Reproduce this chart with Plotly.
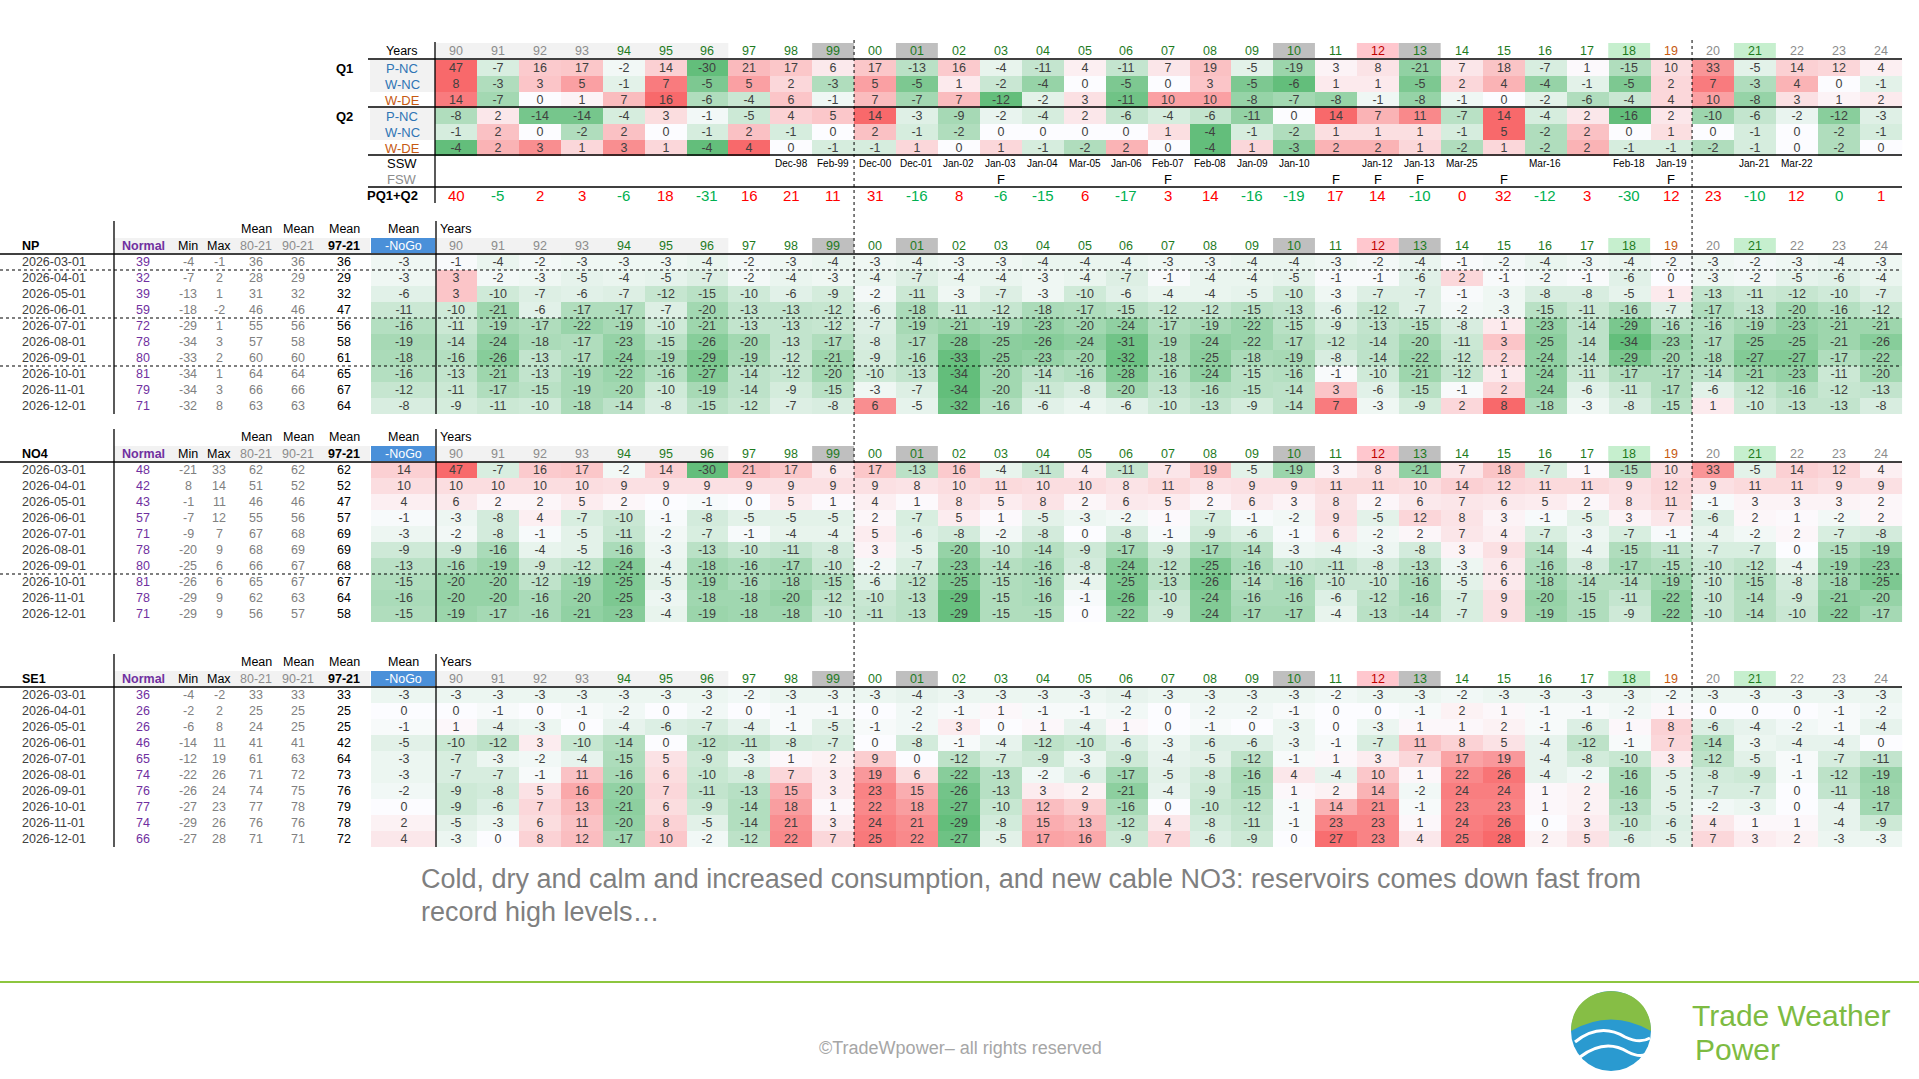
import plotly.graph_objects as go

# ---- data ----
YEARS = ["90", "91", "92", "93", "94", "95", "96", "97", "98", "99",
         "00", "01", "02", "03", "04", "05", "06", "07", "08", "09",
         "10", "11", "12", "13", "14", "15", "16", "17", "18", "19",
         "20", "21", "22", "23", "24"]
MONTHS = ["2026-03-01", "2026-04-01", "2026-05-01", "2026-06-01", "2026-07-01",
          "2026-08-01", "2026-09-01", "2026-10-01", "2026-11-01", "2026-12-01"]

# top block: Q1 / Q2 anomalies
Q_LABELS = ["P-NC", "W-NC", "W-DE", "P-NC", "W-NC", "W-DE"]
Q1_PNC = [47, -7, 16, 17, -2, 14, -30, 21, 17, 6, 17, -13, 16, -4, -11, 4, -11, 7, 19, -5, -19, 3, 8, -21, 7, 18, -7, 1, -15, 10, 33, -5, 14, 12, 4]
Q1_WNC = [8, -3, 3, 5, -1, 7, -5, 5, 2, -3, 5, -5, 1, -2, -4, 0, -5, 0, 3, -5, -6, 1, 1, -5, 2, 4, -4, -1, -5, 2, 7, -3, 4, 0, -1]
Q1_WDE = [14, -7, 0, 1, 7, 16, -6, -4, 6, -1, 7, -7, 7, -12, -2, 3, -11, 10, 10, -8, -7, -8, -1, -8, -1, 0, -2, -6, -4, 4, 10, -8, 3, 1, 2]
Q2_PNC = [-8, 2, -14, -14, -4, 3, -1, -5, 4, 5, 14, -3, -9, -2, -4, 2, -6, -4, -6, -11, 0, 14, 7, 11, -7, 14, -4, 2, -16, 2, -10, -6, -2, -12, -3]
Q2_WNC = [-1, 2, 0, -2, 2, 0, -1, 2, -1, 0, 2, -1, -2, 0, 0, 0, 0, 1, -4, -1, -2, 1, 1, 1, -1, 5, -2, 2, 0, 1, 0, -1, 0, -2, -1]
Q2_WDE = [-4, 2, 3, 1, 3, 1, -4, 4, 0, -1, -1, 1, 0, 1, -1, -2, 2, 0, -4, 1, -3, 2, 2, 1, -2, 1, -2, 2, -1, -1, -2, -1, 0, -2, 0]
SSW = ["", "", "", "", "", "", "", "", "Dec-98", "Feb-99", "Dec-00", "Dec-01", "Jan-02", "Jan-03", "Jan-04",
       "Mar-05", "Jan-06", "Feb-07", "Feb-08", "Jan-09", "Jan-10", "", "Jan-12", "Jan-13", "Mar-25", "",
       "Mar-16", "", "Feb-18", "Jan-19", "", "Jan-21", "Mar-22", "", ""]
FSW = ["", "", "", "", "", "", "", "", "", "", "", "", "", "F", "", "", "", "F", "", "", "", "F", "F", "F",
       "", "F", "", "", "", "F", "", "", "", "", ""]
PQ = [40, -5, 2, 3, -6, 18, -31, 16, 21, 11, 31, -16, 8, -6, -15, 6, -17, 3, 14, -16, -19, 17, 14, -10, 0, 32, -12, 3, -30, 12, 23, -10, 12, 0, 1]

# NP
NP_NORMAL = [39, 32, 39, 59, 72, 78, 80, 81, 79, 71]
NP_MIN = [-4, -7, -13, -18, -29, -34, -33, -34, -34, -32]
NP_MAX = [-1, 2, 1, -2, 1, 3, 2, 1, 3, 8]
NP_M80 = [36, 28, 31, 46, 55, 57, 60, 64, 66, 63]
NP_M90 = [36, 29, 32, 46, 56, 58, 60, 64, 66, 63]
NP_M97 = [36, 29, 32, 47, 56, 58, 61, 65, 67, 64]
NP_NOGO = [-3, -3, -6, -11, -16, -19, -18, -16, -12, -8]
NP_DEV = [
    [-1, -4, -2, -3, -3, -3, -4, -2, -3, -4, -3, -4, -3, -3, -4, -4, -4, -3, -3, -4, -4, -3, -2, -4, -1, -2, -4, -3, -4, -2, -3, -2, -3, -4, -3],
    [3, -2, -3, -5, -4, -5, -7, -2, -4, -3, -4, -7, -4, -4, -3, -4, -7, -1, -4, -4, -5, -1, -1, -6, 2, -1, -2, -1, -6, 0, -3, -2, -5, -6, -4],
    [3, -10, -7, -6, -7, -12, -15, -10, -6, -9, -2, -11, -3, -7, -3, -10, -6, -4, -4, -5, -10, -3, -7, -7, -1, -3, -8, -8, -5, 1, -13, -11, -12, -10, -7],
    [-10, -21, -6, -17, -17, -7, -20, -13, -13, -12, -6, -18, -11, -12, -18, -17, -15, -12, -12, -15, -13, -6, -12, -7, -2, -3, -15, -11, -16, -7, -17, -13, -20, -16, -12],
    [-11, -19, -17, -22, -19, -10, -21, -13, -13, -12, -7, -19, -21, -19, -23, -20, -24, -17, -19, -22, -15, -9, -13, -15, -8, 1, -23, -14, -29, -16, -16, -19, -23, -21, -21],
    [-14, -24, -18, -17, -23, -15, -26, -20, -13, -17, -8, -17, -28, -25, -26, -24, -31, -19, -24, -22, -17, -12, -14, -20, -11, 3, -25, -14, -34, -23, -17, -25, -25, -21, -26],
    [-16, -26, -13, -17, -24, -19, -29, -19, -12, -21, -9, -16, -33, -25, -23, -20, -32, -18, -25, -18, -19, -8, -14, -22, -12, 2, -24, -14, -29, -20, -18, -27, -27, -17, -22],
    [-13, -21, -13, -19, -22, -16, -27, -14, -12, -20, -10, -13, -34, -20, -14, -16, -28, -16, -24, -15, -16, -1, -10, -21, -12, 1, -24, -11, -17, -17, -14, -21, -23, -11, -20],
    [-11, -17, -15, -19, -20, -10, -19, -14, -9, -15, -3, -7, -34, -20, -11, -8, -20, -13, -16, -15, -14, 3, -6, -15, -1, 2, -24, -6, -11, -17, -6, -12, -16, -12, -13],
    [-9, -11, -10, -18, -14, -8, -15, -12, -7, -8, 6, -5, -32, -16, -6, -4, -6, -10, -13, -9, -14, 7, -3, -9, 2, 8, -18, -3, -8, -15, 1, -10, -13, -13, -8],
]

# NO4
NO4_NORMAL = [48, 42, 43, 57, 71, 78, 80, 81, 78, 71]
NO4_MIN = [-21, 8, -1, -7, -9, -20, -25, -26, -29, -29]
NO4_MAX = [33, 14, 11, 12, 7, 9, 6, 6, 9, 9]
NO4_M80 = [62, 51, 46, 55, 67, 68, 66, 65, 62, 56]
NO4_M90 = [62, 52, 46, 56, 68, 69, 67, 67, 63, 57]
NO4_M97 = [62, 52, 47, 57, 69, 69, 68, 67, 64, 58]
NO4_NOGO = [14, 10, 4, -1, -3, -9, -13, -15, -16, -15]
NO4_DEV = [
    [47, -7, 16, 17, -2, 14, -30, 21, 17, 6, 17, -13, 16, -4, -11, 4, -11, 7, 19, -5, -19, 3, 8, -21, 7, 18, -7, 1, -15, 10, 33, -5, 14, 12, 4],
    [10, 10, 10, 10, 9, 9, 9, 9, 9, 9, 9, 8, 10, 11, 10, 10, 8, 11, 8, 9, 9, 11, 11, 10, 14, 12, 11, 11, 9, 12, 9, 11, 11, 9, 9],
    [6, 2, 2, 5, 2, 0, -1, 0, 5, 1, 4, 1, 8, 5, 8, 2, 6, 5, 2, 6, 3, 8, 2, 6, 7, 6, 5, 2, 8, 11, -1, 3, 3, 3, 2],
    [-3, -8, 4, -7, -10, -1, -8, -5, -5, -5, 2, -7, 5, 1, -5, -3, -2, 1, -7, -1, -2, 9, -5, 12, 8, 3, -1, -5, 3, 7, -6, 2, 1, -2, 2],
    [-2, -8, -1, -5, -11, -2, -7, -1, -4, -4, 5, -6, -8, -2, -8, 0, -8, -1, -9, -6, -1, 6, -2, 2, 7, 4, -7, -3, -7, -1, -4, -2, 2, -7, -8],
    [-9, -16, -4, -5, -16, -3, -13, -10, -11, -8, 3, -5, -20, -10, -14, -9, -17, -9, -17, -14, -3, -4, -3, -8, 3, 9, -14, -4, -15, -11, -7, -7, 0, -15, -19],
    [-16, -19, -9, -12, -24, -4, -18, -16, -17, -10, -2, -7, -23, -14, -16, -8, -24, -12, -25, -16, -10, -11, -8, -13, -3, 6, -16, -8, -17, -15, -10, -12, -4, -19, -23],
    [-20, -20, -12, -19, -25, -5, -19, -16, -18, -15, -6, -12, -25, -15, -16, -4, -25, -13, -26, -14, -16, -10, -10, -16, -5, 6, -18, -14, -14, -19, -10, -15, -8, -18, -25],
    [-20, -20, -16, -20, -25, -3, -18, -18, -20, -12, -10, -13, -29, -15, -16, -1, -26, -10, -24, -16, -16, -6, -12, -16, -7, 9, -20, -15, -11, -22, -10, -14, -9, -21, -20],
    [-19, -17, -16, -21, -23, -4, -19, -18, -18, -10, -11, -13, -29, -15, -15, 0, -22, -9, -24, -17, -17, -4, -13, -14, -7, 9, -19, -15, -9, -22, -10, -14, -10, -22, -17],
]

# SE1
SE1_NORMAL = [36, 26, 26, 46, 65, 74, 76, 77, 74, 66]
SE1_MIN = [-4, -2, -6, -14, -12, -22, -26, -27, -29, -27]
SE1_MAX = [-2, 2, 8, 11, 19, 26, 24, 23, 26, 28]
SE1_M80 = [33, 25, 24, 41, 61, 71, 74, 77, 76, 71]
SE1_M90 = [33, 25, 25, 41, 63, 72, 75, 78, 76, 71]
SE1_M97 = [33, 25, 25, 42, 64, 73, 76, 79, 78, 72]
SE1_NOGO = [-3, 0, -1, -5, -3, -3, -2, 0, 2, 4]
SE1_DEV = [
    [-3, -3, -3, -3, -3, -3, -3, -2, -3, -3, -3, -4, -3, -3, -3, -3, -4, -3, -3, -3, -3, -2, -3, -3, -2, -3, -3, -3, -3, -2, -3, -3, -3, -3, -3],
    [0, -1, 0, -1, -2, 0, -2, 0, -1, -1, 0, -2, -1, 1, -1, -1, -2, 0, -2, -2, -1, 0, 0, -1, 2, 1, -1, -1, -2, 1, 0, 0, 0, -1, -2],
    [1, -4, -3, 0, -4, -6, -7, -4, -1, -5, -1, -2, 3, 0, 1, -4, 1, 0, -1, 0, -3, 0, -3, 1, 1, 2, -1, -6, 1, 8, -6, -4, -2, -1, -4],
    [-10, -12, 3, -10, -14, 0, -12, -11, -8, -7, 0, -8, -1, -4, -12, -10, -6, -3, -6, -6, -3, -1, -7, 11, 8, 5, -4, -12, -1, 7, -14, -3, -4, -4, 0],
    [-7, -3, -2, -4, -15, 5, -9, -3, 1, 2, 9, 0, -12, -7, -9, -3, -9, -4, -5, -12, -1, 1, 3, 7, 17, 19, -4, -8, -10, 3, -12, -5, -1, -7, -11],
    [-7, -7, -1, 11, -16, 6, -10, -8, 7, 3, 19, 6, -22, -13, -2, -6, -17, -5, -8, -16, 4, -4, 10, 1, 22, 26, -4, -2, -16, -5, -8, -9, -1, -12, -19],
    [-9, -8, 5, 16, -20, 7, -11, -13, 15, 3, 23, 15, -26, -13, 3, 2, -21, -4, -9, -15, 1, 2, 14, -2, 24, 24, 1, 2, -16, -5, -7, -7, 0, -11, -18],
    [-9, -6, 7, 13, -21, 6, -9, -14, 18, 1, 22, 18, -27, -10, 12, 9, -16, 0, -10, -12, -1, 14, 21, -1, 23, 23, 1, 2, -13, -5, -2, -3, 0, -4, -17],
    [-5, -3, 6, 11, -20, 8, -5, -14, 21, 3, 24, 21, -29, -8, 15, 13, -12, 4, -8, -11, -1, 23, 23, 1, 24, 26, 0, 3, -10, -6, 4, 1, 1, -4, -9],
    [-3, 0, 8, 12, -17, 10, -2, -12, 22, 7, 25, 22, -27, -5, 17, 16, -9, 7, -6, -9, 0, 27, 23, 4, 25, 28, 2, 5, -6, -5, 7, 3, 2, -3, -3],
]

# ---- styling ----
FONT = "Liberation Sans Narrow, Arial Narrow, Liberation Sans, Arial"
GREEN_TXT = "#1E7B1E"
YEAR_COLORS = ["#8C8C8C"] * 4 + [GREEN_TXT] * 18 + ["#C00000"] + [GREEN_TXT] * 6 + ["#C65911"] + \
              ["#8C8C8C", GREEN_TXT, "#8C8C8C", "#8C8C8C", "#8C8C8C"]
YEAR_BG = {9: "#BFBFBF", 11: "#BFBFBF", 20: "#BFBFBF", 23: "#BFBFBF", 22: "#FFC7CE", 28: "#C6EFCE", 31: "#C6EFCE"}
SCALE = [[0, "#63BE7B"], [0.5, "#FCFCFF"], [1, "#F8696B"]]

X0, DX = 456, 41.9
xs = [X0 + i * DX for i in range(len(YEARS))]

fig = go.Figure()
annotations = []
shapes = []


def ann(x, y, text, color="#404040", size=12, bold=False, anchor="center"):
    if bold:
        text = "<b>" + text + "</b>"
    annotations.append(dict(x=x, y=y, text=text, showarrow=False, xanchor=anchor, yanchor="middle",
                            font=dict(color=color, size=size, family=FONT)))


def line(x0, y0, x1, y1, color="black", width=1.3, dash="solid"):
    shapes.append(dict(type="line", x0=x0, y0=y0, x1=x1, y1=y1, layer="above",
                       line=dict(color=color, width=width, dash=dash)))


def rect(x0, y0, x1, y1, color):
    shapes.append(dict(type="rect", x0=x0, y0=y0, x1=x1, y1=y1, layer="below",
                       fillcolor=color, line=dict(width=0)))


def norm(v, lo, hi):
    if v > 0:
        return v / hi if hi > 0 else 0
    if v < 0:
        return -v / lo if lo < 0 else 0
    return 0


def heat(z, text, x0, dx, y0, dy):
    fig.add_trace(go.Heatmap(z=z, text=text, x0=x0, dx=dx, y0=y0, dy=dy, zmin=-1, zmax=1,
                             colorscale=SCALE, showscale=False, hoverinfo="skip",
                             texttemplate="%{text}", textfont=dict(family=FONT, size=12.5, color="#404040")))


def year_header(y):
    rect(xs[0] - DX / 2, y - 8, xs[6] + DX / 2, y + 7, "#F2F2F2")
    for i, yr in enumerate(YEARS):
        if i in YEAR_BG:
            rect(xs[i] - DX / 2, y - 8, xs[i] + DX / 2, y + 7, YEAR_BG[i])
        ann(xs[i], y, yr, YEAR_COLORS[i], 12.5)


# ---- top block ----
q_rows = [Q1_PNC, Q1_WNC, Q1_WDE, Q2_PNC, Q2_WNC, Q2_WDE]
q_z = [[norm(v, min(r), max(r)) for v in r] for r in q_rows]
heat(q_z, q_rows, X0, DX, 68, 16)
year_header(51)
ann(402, 51, "Years", "black", 12.5)
for k, lab in enumerate(Q_LABELS):
    y = 68 + 16 * k
    if k % 3 != 2:
        rect(370, y - 8, 435, y + 8, "#F2F2F2")
    ann(402, y, lab, "#C65911" if lab == "W-DE" else "#2F75B5", 13)
ann(344, 68, "Q1", "black", 13, True)
ann(344, 116, "Q2", "black", 13, True)
ann(402, 163, "SSW", "black", 13)
ann(402, 179, "FSW", "#8C8C8C", 13)
ann(392, 195, "PQ1+Q2", "black", 13, True)
for i in range(len(YEARS)):
    if SSW[i]:
        ann(xs[i], 163, SSW[i], "black", 10)
    if FSW[i]:
        ann(xs[i], 179, FSW[i], "black", 13)
    ann(xs[i], 195, str(PQ[i]), "#FF0000" if PQ[i] >= 0 and i != 33 else "#00B050", 15)
line(368, 59, 1902, 59)
line(368, 107, 1902, 107)
line(368, 155, 1902, 155)
line(368, 187, 1902, 187)
line(435, 42, 435, 203)

# ---- monthly blocks ----
blocks = [
    ("NP", 246, NP_NORMAL, NP_MIN, NP_MAX, NP_M80, NP_M90, NP_M97, NP_NOGO, NP_DEV, [0, 3, 6]),
    ("NO4", 454, NO4_NORMAL, NO4_MIN, NO4_MAX, NO4_M80, NO4_M90, NO4_M97, NO4_NOGO, NO4_DEV, [6]),
    ("SE1", 679, SE1_NORMAL, SE1_MIN, SE1_MAX, SE1_M80, SE1_M90, SE1_M97, SE1_NOGO, SE1_DEV, []),
]
for name, hy, normal, mn, mx, m80, m90, m97, nogo, dev, dotted in blocks:
    y0 = hy + 16
    flat = [v for r in dev for v in r] + nogo
    lo, hi = min(flat), max(flat)
    heat([[norm(v, lo, hi) for v in r] for r in dev], dev, X0, DX, y0, 16)
    heat([[norm(v, lo, hi)] for v in nogo], [[v] for v in nogo], 403.5, 65, y0, 16)

    # headers
    for x, t in [(256, "Mean"), (298, "Mean"), (344, "Mean"), (403, "Mean")]:
        ann(x, hy - 17, t, "black", 12.5)
    ann(438, hy - 17, "Years", "black", 12.5, anchor="left")
    rect(114, hy - 8, 370, hy + 7, "#F2F2F2")
    rect(371, hy - 8, 436, hy + 7, "#4A90D9")
    ann(20, hy, name, "black", 12.5, True, "left")
    ann(143, hy, "Normal", "#7030A0", 12.5, True)
    ann(188, hy, "Min", "black", 12.5)
    ann(219, hy, "Max", "black", 12.5)
    ann(256, hy, "80-21", "#8C8C8C", 12.5)
    ann(298, hy, "90-21", "#8C8C8C", 12.5)
    ann(344, hy, "97-21", "black", 12.5, True)
    ann(403, hy, "-NoGo", "white", 12.5)
    year_header(hy)

    for r in range(len(MONTHS)):
        y = y0 + 16 * r
        ann(20, y, MONTHS[r], "#404040", 12.5, anchor="left")
        ann(143, y, str(normal[r]), "#7030A0", 12.5)
        ann(188, y, str(mn[r]), "#808080", 12.5)
        ann(219, y, str(mx[r]), "#808080", 12.5)
        ann(256, y, str(m80[r]), "#808080", 12.5)
        ann(298, y, str(m90[r]), "#808080", 12.5)
        ann(344, y, str(m97[r]), "black", 12.5)
    line(0, hy + 8, 1902, hy + 8)
    line(114, hy - 25, 114, y0 + 16 * 9 + 8)
    line(436, hy - 25, 436, y0 + 16 * 9 + 8)
    for r in dotted:
        line(0, y0 + 16 * r + 8, 1902, y0 + 16 * r + 8, width=1.2, dash="dot")

# dashed dividers
for xd in [(xs[9] + xs[10]) / 2, (xs[29] + xs[30]) / 2]:
    line(xd, 40, xd, 848, width=1, dash="dot")

# ---- footer ----
ann(419, 879, "Cold, dry and calm and increased consumption, and new cable NO3: reservoirs comes down fast from",
    "#7F7F7F", 27, anchor="left")
ann(419, 912, "record high levels…", "#7F7F7F", 27, anchor="left")
line(0, 982, 1919, 982, color="#8DC63F", width=2)
ann(960, 1048, "©TradeWpower– all rights reserved", "#A6A6A6", 18)
ann(1690, 1015, "Trade Weather", "#7DBB42", 30, anchor="left")
ann(1693, 1049, "Power", "#7DBB42", 30, anchor="left")
# logo
shapes.append(dict(type="circle", x0=1571, y0=991, x1=1651, y1=1071, fillcolor="#2A9AD0",
                   line=dict(width=0), layer="above"))
shapes.append(dict(type="path", path="M1571,1031 C1571,978 1651,978 1651,1031 Q1611,1008 1571,1031 Z",
                   fillcolor="#86BE45", line=dict(width=0), layer="above"))
shapes.append(dict(type="path", path="M1575,1042 Q1600,1022 1625,1037 Q1640,1044 1650,1038",
                   line=dict(color="white", width=3), layer="above"))
shapes.append(dict(type="path", path="M1580,1057 Q1605,1038 1628,1052 Q1640,1058 1646,1054",
                   line=dict(color="white", width=3), layer="above"))

fig.update_layout(
    width=1919, height=1079, margin=dict(l=0, r=0, t=0, b=0),
    paper_bgcolor="white", plot_bgcolor="white",
    xaxis=dict(range=[0, 1919], visible=False, fixedrange=True),
    yaxis=dict(range=[1079, 0], visible=False, fixedrange=True),
    annotations=annotations, shapes=shapes, showlegend=False,
)
fig.write_html("out.html", config={"displayModeBar": False},
               post_script="document.body.style.margin='0';document.body.style.overflow='hidden';")
